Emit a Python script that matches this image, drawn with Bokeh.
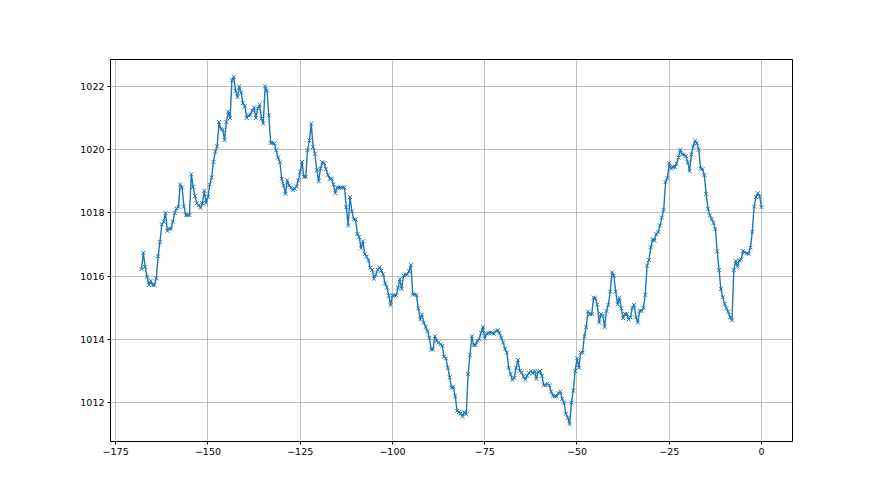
from bokeh.plotting import figure
from bokeh.models import Range1d, FixedTicker
from bokeh.embed import file_html
from bokeh.resources import INLINE

# Half-hourly pressure readings (hPa), hour -168 .. 0
HOUR_START = -168.0
HOUR_STEP = 0.5
pressure_hpa = [
    1016.22, 1016.74, 1016.29, 1015.98, 1015.72, 1015.85, 1015.72, 1015.72, 1015.93, 1016.63,
    1017.08, 1017.64, 1017.72, 1018.00, 1017.43, 1017.50, 1017.50, 1017.72, 1018.00, 1018.14,
    1018.19, 1018.90, 1018.80, 1018.20, 1017.93, 1017.93, 1017.93, 1019.22, 1018.82, 1018.53,
    1018.30, 1018.24, 1018.16, 1018.30, 1018.70, 1018.32, 1018.50, 1018.90, 1019.12, 1019.61,
    1019.93, 1020.10, 1020.87, 1020.66, 1020.63, 1020.30, 1020.87, 1021.20, 1021.00, 1022.19,
    1022.30, 1021.85, 1021.66, 1022.00, 1021.80, 1021.47, 1021.37, 1021.00, 1021.08, 1021.10,
    1021.24, 1021.33, 1021.00, 1021.30, 1021.42, 1020.98, 1020.82, 1022.00, 1021.87, 1021.08,
    1020.21, 1020.21, 1020.19, 1019.98, 1019.75, 1019.60, 1019.08, 1018.87, 1018.60, 1019.03,
    1018.87, 1018.80, 1018.72, 1018.76, 1018.84, 1019.03, 1019.30, 1019.61, 1019.14, 1019.14,
    1019.98, 1020.29, 1020.82, 1020.08, 1019.87, 1019.35, 1019.00, 1019.40, 1019.60, 1019.57,
    1019.38, 1019.20, 1019.08, 1019.08, 1018.90, 1018.62, 1018.80, 1018.80, 1018.80, 1018.80,
    1018.80, 1018.18, 1017.60, 1018.50, 1018.05, 1017.80, 1017.79, 1017.33, 1017.23, 1016.88,
    1017.10, 1016.70, 1016.62, 1016.50, 1016.26, 1016.20, 1015.92, 1016.05, 1016.20, 1016.28,
    1016.17, 1016.06, 1015.77, 1015.64, 1015.38, 1015.08, 1015.39, 1015.39, 1015.39, 1015.63,
    1015.90, 1015.60, 1016.02, 1016.05, 1016.05, 1016.16, 1016.35, 1015.42, 1015.42, 1015.40,
    1014.98, 1014.63, 1014.79, 1014.53, 1014.39, 1014.26, 1014.05, 1013.68, 1013.68, 1014.10,
    1013.95, 1013.90, 1013.84, 1013.80, 1013.45, 1013.40, 1013.10, 1012.80, 1012.47, 1012.50,
    1012.20, 1011.74, 1011.70, 1011.66, 1011.56, 1011.70, 1011.63, 1012.90, 1013.50, 1014.10,
    1013.82, 1013.82, 1013.95, 1014.00, 1014.21, 1014.39, 1014.03, 1014.18, 1014.20, 1014.22,
    1014.20, 1014.18, 1014.26, 1014.29, 1014.20, 1014.05, 1013.90, 1013.70, 1013.58, 1013.10,
    1012.90, 1012.72, 1012.78, 1013.10, 1013.35, 1013.00, 1012.95, 1012.82, 1012.73, 1012.85,
    1012.94, 1013.00, 1012.92, 1013.00, 1012.75, 1012.97, 1013.00, 1012.85, 1012.55, 1012.55,
    1012.60, 1012.55, 1012.35, 1012.22, 1012.20, 1012.20, 1012.30, 1012.35, 1012.12, 1012.00,
    1011.65, 1011.52, 1011.32, 1012.00, 1012.38, 1013.00, 1013.40, 1013.10, 1013.58, 1013.58,
    1014.10, 1014.39, 1014.88, 1014.80, 1014.80, 1015.32, 1015.30, 1015.10, 1014.53, 1014.80,
    1014.75, 1014.39, 1014.90, 1015.09, 1015.51, 1016.12, 1016.01, 1015.51, 1015.11, 1015.32,
    1014.98, 1014.67, 1014.80, 1014.80, 1014.63, 1014.70, 1015.00, 1015.09, 1014.69, 1014.53,
    1014.90, 1014.90, 1015.00, 1015.41, 1016.33, 1016.51, 1016.91, 1017.17, 1017.12, 1017.33,
    1017.39, 1017.60, 1017.85, 1018.10, 1018.97, 1019.10, 1019.58, 1019.40, 1019.45, 1019.45,
    1019.56, 1019.75, 1020.00, 1019.85, 1019.84, 1019.80, 1019.60, 1019.32, 1019.85, 1020.10,
    1020.28, 1020.20, 1020.00, 1019.40, 1019.38, 1019.20, 1018.60, 1018.13, 1017.92, 1017.80,
    1017.68, 1017.49, 1016.78, 1016.19, 1015.59, 1015.33, 1015.12, 1014.99, 1014.87, 1014.70,
    1014.60, 1016.19, 1016.48, 1016.30, 1016.50, 1016.53, 1016.80, 1016.75, 1016.72, 1016.70,
    1016.90, 1017.40, 1018.20, 1018.50, 1018.62, 1018.52, 1018.18,
]
hours = [HOUR_START + i * HOUR_STEP for i in range(len(pressure_hpa))]

x_ticks = [-175, -150, -125, -100, -75, -50, -25, 0]
y_ticks = [1012, 1014, 1016, 1018, 1020, 1022]
x_tick_labels = {t: str(t).replace("-", "\u2212") for t in x_ticks}
y_tick_labels = {t: str(t) for t in y_ticks}

BLUE = "#1f77b4"

def padded(lo, hi, frac=0.05):
    d = (hi - lo) * frac
    return lo - d, hi + d

x0, x1 = padded(min(hours), max(hours))
y0, y1 = padded(min(pressure_hpa), max(pressure_hpa))

p = figure(width=870, height=487, output_backend="svg", toolbar_location=None,
           x_range=Range1d(x0, x1), y_range=Range1d(y0, y1),
           min_border_left=110, min_border_right=78, min_border_top=59, min_border_bottom=46)
p.background_fill_color = "white"
p.border_fill_color = "white"
p.outline_line_color = "black"
p.outline_line_width = 1

for ax in (p.xaxis[0], p.yaxis[0]):
    ax.axis_line_color = None
    ax.major_tick_in = 0
    ax.major_tick_out = 3
    ax.major_tick_line_color = "black"
    ax.minor_tick_line_color = None
    ax.major_label_text_font = "DejaVu Sans"
    ax.major_label_text_font_size = "9.5px"
    ax.major_label_text_color = "black"
    ax.major_label_standoff = 3

p.xaxis[0].ticker = FixedTicker(ticks=x_ticks)
p.yaxis[0].ticker = FixedTicker(ticks=y_ticks)
p.xaxis[0].major_label_overrides = x_tick_labels
p.yaxis[0].major_label_overrides = y_tick_labels

p.xgrid[0].ticker = FixedTicker(ticks=x_ticks)
p.ygrid[0].ticker = FixedTicker(ticks=y_ticks)
p.grid.grid_line_color = "#b0b0b0"
p.grid.grid_line_width = 0.8

p.line(hours, pressure_hpa, line_color=BLUE, line_width=1.4)
p.scatter(hours, pressure_hpa, marker="x", size=5.5, line_color=BLUE, line_width=1)

open("out.html", "w").write(file_html(p, INLINE))
